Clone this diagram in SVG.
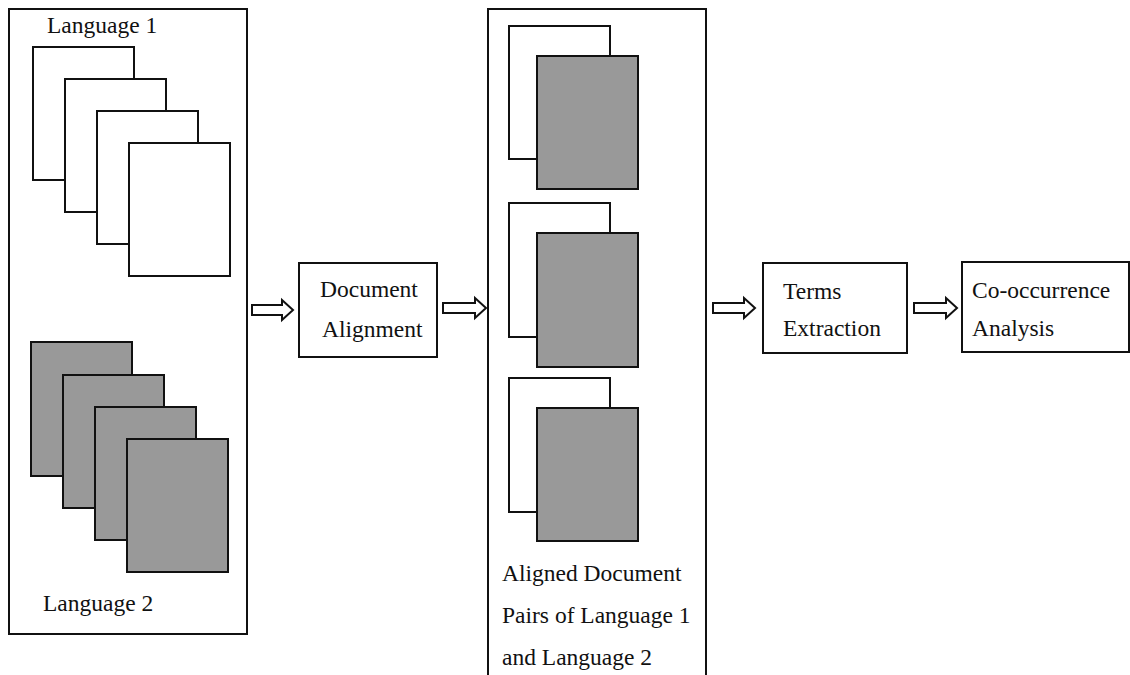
<svg xmlns="http://www.w3.org/2000/svg" width="1130" height="675" viewBox="0 0 1130 675">
<style>
.box{fill:#fff;stroke:#111;stroke-width:2}
.pw{fill:#fff;stroke:#111;stroke-width:2}
.pg{fill:#999;stroke:#111;stroke-width:2}
.t{font-family:"Liberation Serif","Times New Roman",serif;font-size:23.5px;fill:#111}
.arr{fill:#fff;stroke:#111;stroke-width:2;stroke-linejoin:miter}
</style>
<rect width="1130" height="675" fill="#fff"/>
<g id="lang-corpus">
<rect class="box" x="9" y="9" width="238" height="625"/>
<text class="t" x="47" y="33">Language 1</text>
<rect class="pw" x="33" y="47" width="101" height="133"/>
<rect class="pw" x="65" y="79" width="101" height="133"/>
<rect class="pw" x="97" y="111" width="101" height="133"/>
<rect class="pw" x="129" y="143" width="101" height="133"/>
<rect class="pg" x="31" y="342" width="101" height="134"/>
<rect class="pg" x="63" y="375" width="101" height="133"/>
<rect class="pg" x="95" y="407" width="101" height="133"/>
<rect class="pg" x="127" y="439" width="101" height="133"/>
<text class="t" x="43" y="611">Language 2</text>
</g>
<g id="doc-align">
<rect class="box" x="299" y="263" width="138" height="94"/>
<text class="t" x="320" y="297">Document</text>
<text class="t" x="322" y="337">Alignment</text>
</g>
<g id="aligned-pairs">
<rect class="box" x="488" y="9" width="218" height="670"/>
<rect class="pw" x="509" y="26" width="101" height="133"/>
<rect class="pg" x="537" y="56" width="101" height="133"/>
<rect class="pw" x="509" y="203" width="101" height="134"/>
<rect class="pg" x="537" y="233" width="101" height="134"/>
<rect class="pw" x="509" y="378" width="101" height="134"/>
<rect class="pg" x="537" y="408" width="101" height="133"/>
<text class="t" x="502" y="581">Aligned Document</text>
<text class="t" x="502" y="623">Pairs of Language 1</text>
<text class="t" x="502" y="665">and Language 2</text>
</g>
<g id="terms">
<rect class="box" x="763" y="263" width="144" height="90"/>
<text class="t" x="783" y="299">Terms</text>
<text class="t" x="783" y="336">Extraction</text>
</g>
<g id="cooc">
<rect class="box" x="962" y="262" width="167" height="90"/>
<text class="t" x="972" y="298">Co-occurrence</text>
<text class="t" x="972" y="336">Analysis</text>
</g>
<g id="connectors">
<polygon class="arr" points="252,305 282,305 282,300 293,310 282,320 282,315 252,315"/>
<polygon class="arr" points="443,303 475,303 475,298 486,308 475,318 475,313 443,313"/>
<polygon class="arr" points="713,303 744,303 744,298 755,308 744,318 744,313 713,313"/>
<polygon class="arr" points="914,303 946,303 946,298 957,308 946,318 946,313 914,313"/>
</g>
</svg>
